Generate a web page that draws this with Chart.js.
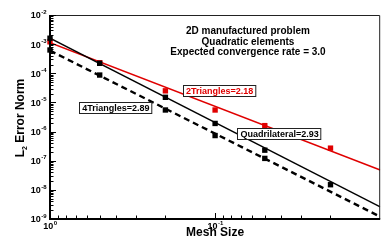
<!DOCTYPE html>
<html>
<head>
<meta charset="utf-8">
<script src="https://cdn.jsdelivr.net/npm/chart.js@4.4.1/dist/chart.umd.min.js"></script>
<style>
  html, body { margin: 0; padding: 0; background: #fff; }
  #wrap { width: 384px; height: 245px; }
</style>
</head>
<body>
<div id="wrap"><canvas id="chart" width="384" height="245"></canvas></div>
<script>
// mesh sizes and L2 errors
const meshSize = [1, 0.5, 0.2, 0.1, 0.05, 0.02];
const quadError = [1.6e-3, 2.2e-4, 1.5e-5, 1.9e-6, 2.3e-7, 1.5e-8];
const tri4Error = [6.3e-4, 8.7e-5, 5.5e-6, 7.3e-7, 1.2e-7];
const tri2Error = [1.2e-3, 2.3e-4, 2.5e-5, 5.5e-6, 1.6e-6, 2.7e-7];

// fitted convergence lines (end points)
const fitSize = [1, 0.01];
const quadFit = [1.6e-3, 2.6e-9];
const tri4Fit = [6.0e-4, 1.2e-9];
const tri2Fit = [1.12e-3, 4.8e-8];

// tick exponents
const xTickExp = [0, -1];
const yTickExp = [-2, -3, -4, -5, -6, -7, -8, -9];

const titleLines = ["2D manufactured problem", "Quadratic elements", "Expected convergence rate = 3.0"];
const fitLabels = ["2Triangles=2.18", "4Triangles=2.89", "Quadrilateral=2.93"];

const RED = "#e00000";
const FONT = '"Liberation Sans", Arial, sans-serif';

const pts = (xs, ys) => ys.map((v, i) => ({ x: xs[i], y: v }));

function markers(data, color) {
  return {
    data, showLine: false, clip: false,
    pointStyle: "rect", pointRadius: 3.8, pointHoverRadius: 3.8,
    pointBackgroundColor: color, pointBorderColor: color, pointBorderWidth: 0,
  };
}

function fitLine(data, color, width, dash) {
  return {
    data, showLine: true, pointRadius: 0, pointHoverRadius: 0,
    borderColor: color, borderWidth: width, borderDash: dash || [],
  };
}

// draws a "10^e" label, centred at (cx, cy)
function powLabel(ctx, e, cx, cy, align) {
  const base = "10", sup = String(e);
  ctx.font = "bold 9px " + FONT;
  const wb = ctx.measureText(base).width;
  ctx.font = "bold 6px " + FONT;
  const ws = ctx.measureText(sup).width;
  let left = align === "right" ? cx - wb - ws : cx - (wb + ws) / 2;
  ctx.textAlign = "left";
  ctx.textBaseline = "middle";
  ctx.font = "bold 9px " + FONT;
  ctx.fillText(base, left, cy + 1);
  ctx.font = "bold 6px " + FONT;
  ctx.fillText(sup, left + wb + 0.5, cy - 3);
}

function boxLabel(ctx, text, color, cx, cy) {
  ctx.font = "bold 9px " + FONT;
  const w = ctx.measureText(text).width + 5;
  const h = 11;
  const l = Math.round(cx - w / 2) + 0.5, t = Math.round(cy - h / 2) + 0.5;
  ctx.fillStyle = "#fff";
  ctx.fillRect(l, t, w, h);
  ctx.strokeStyle = "#222";
  ctx.lineWidth = 1;
  ctx.strokeRect(l, t, w, h);
  ctx.fillStyle = color;
  ctx.textAlign = "center";
  ctx.textBaseline = "middle";
  ctx.fillText(text, cx + 0.5, cy + 1);
}

const decor = {
  id: "decor",
  afterDatasetsDraw(chart) {
    const { ctx, chartArea: a, scales: { x, y } } = chart;
    ctx.save();

    // fit labels, positioned in data coordinates
    const labelAt = [[0.0946, 2.47e-5], [0.402, 6.45e-6], [0.041, 8.9e-7]];
    const labelColor = [RED, "#000", "#000"];
    fitLabels.forEach((t, i) => {
      boxLabel(ctx, t, labelColor[i], x.getPixelForValue(labelAt[i][0]), y.getPixelForValue(labelAt[i][1]));
    });

    // frame
    ctx.strokeStyle = "#222";
    ctx.lineWidth = 1;
    ctx.beginPath();
    ctx.moveTo(a.left, a.top + 0.5);
    ctx.lineTo(a.right - 0.5, a.top + 0.5);
    ctx.lineTo(a.right - 0.5, a.bottom);
    ctx.stroke();
    ctx.strokeStyle = "#000";
    ctx.lineWidth = 2;
    ctx.beginPath();
    ctx.moveTo(a.left, a.top);
    ctx.lineTo(a.left, a.bottom);
    ctx.lineTo(a.right, a.bottom);
    ctx.stroke();

    // inward ticks
    ctx.lineWidth = 1;
    ctx.beginPath();
    for (let e = -9; e <= -3; e++) {
      for (let k = 2; k <= 9; k++) {
        const py = Math.round(y.getPixelForValue(k * Math.pow(10, e))) + 0.5;
        ctx.moveTo(a.left, py); ctx.lineTo(a.left + 3.5, py);
      }
    }
    yTickExp.forEach(e => {
      const py = Math.round(y.getPixelForValue(Math.pow(10, e))) + 0.5;
      ctx.moveTo(a.left, py); ctx.lineTo(a.left + 6, py);
    });
    for (let e = -2; e <= -1; e++) {
      for (let k = 2; k <= 9; k++) {
        const px = Math.round(x.getPixelForValue(k * Math.pow(10, e))) + 0.5;
        ctx.moveTo(px, a.bottom); ctx.lineTo(px, a.bottom - 3.5);
      }
    }
    xTickExp.forEach(e => {
      const px = Math.round(x.getPixelForValue(Math.pow(10, e))) + 0.5;
      ctx.moveTo(px, a.bottom); ctx.lineTo(px, a.bottom - 6);
    });
    ctx.stroke();

    // tick labels
    ctx.fillStyle = "#000";
    yTickExp.forEach(e => powLabel(ctx, e, a.left - 4, y.getPixelForValue(Math.pow(10, e)), "right"));
    xTickExp.forEach(e => powLabel(ctx, e, x.getPixelForValue(Math.pow(10, e)), a.bottom + 7, "center"));

    // axis titles
    ctx.font = "bold 12px " + FONT;
    ctx.textAlign = "center";
    ctx.textBaseline = "middle";
    ctx.fillText("Mesh Size", (a.left + a.right) / 2, a.bottom + 14);

    ctx.save();
    ctx.translate(21, 118);
    ctx.rotate(-Math.PI / 2);
    const p1 = "L", p2 = "2", p3 = " Error Norm";
    ctx.font = "bold 12px " + FONT;
    const w1 = ctx.measureText(p1).width, w3 = ctx.measureText(p3).width;
    ctx.font = "bold 7px " + FONT;
    const w2 = ctx.measureText(p2).width;
    let sx = -(w1 + w2 + w3) / 2;
    ctx.textAlign = "left";
    ctx.font = "bold 12px " + FONT;
    ctx.fillText(p1, sx, 0);
    ctx.font = "bold 7px " + FONT;
    ctx.fillText(p2, sx + w1, 4);
    ctx.font = "bold 12px " + FONT;
    ctx.fillText(p3, sx + w1 + w2, 0);
    ctx.restore();

    // title block
    ctx.font = "bold 10px " + FONT;
    ctx.textAlign = "center";
    titleLines.forEach((t, i) => ctx.fillText(t, 248, 31 + i * 10.8));

    ctx.restore();
  }
};

new Chart(document.getElementById("chart"), {
  type: "scatter",
  data: {
    datasets: [
      markers(pts(meshSize, quadError), "#000"),
      markers(pts(meshSize, tri4Error), "#000"),
      markers(pts(meshSize, tri2Error), RED),
      fitLine(pts(fitSize, quadFit), "#000", 1.4),
      fitLine(pts(fitSize, tri4Fit), "#000", 2.4, [6, 4]),
      fitLine(pts(fitSize, tri2Fit), RED, 1.4),
    ]
  },
  options: {
    responsive: false,
    animation: false,
    devicePixelRatio: 1,
    layout: { padding: { left: 50, right: 1, top: 15, bottom: 26 } },
    scales: {
      x: {
        type: "logarithmic", min: 0.01, max: 1, reverse: true,
        ticks: { display: false },
        grid: { display: false, drawTicks: false },
        border: { display: false },
      },
      y: {
        type: "logarithmic", min: 1e-9, max: 1e-2,
        ticks: { display: false },
        grid: { display: false, drawTicks: false },
        border: { display: false },
      }
    },
    plugins: {
      legend: { display: false },
      tooltip: { enabled: false },
    }
  },
  plugins: [decor]
});
</script>
</body>
</html>
